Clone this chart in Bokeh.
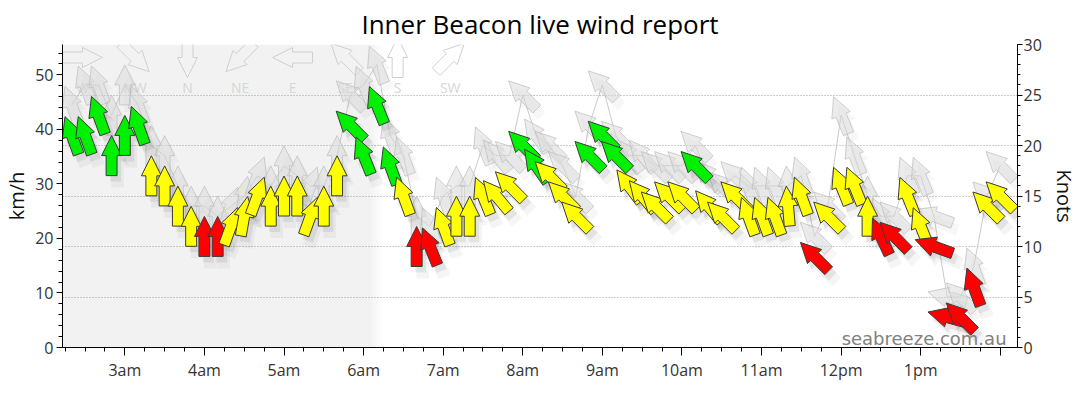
import numpy as np
from bokeh.plotting import figure
from bokeh.models import Range1d, LinearAxis, SingleIntervalTicker, FixedTicker, Label
from bokeh.embed import file_html
from bokeh.resources import INLINE
from bokeh.core.properties import value

# ---------------- data ----------------
times = ["02:20", "02:30", "02:40", "02:50", "03:00", "03:10", "03:20", "03:30", "03:40", "03:50",
         "04:00", "04:10", "04:20", "04:30", "04:40", "04:50", "05:00", "05:10", "05:20", "05:30",
         "05:40", "05:50", "06:00", "06:10", "06:20", "06:30", "06:40", "06:50", "07:00", "07:10",
         "07:20", "07:30", "07:40", "07:50", "08:00", "08:10", "08:20", "08:30", "08:40", "08:50",
         "09:00", "09:10", "09:20", "09:30", "09:40", "09:50", "10:00", "10:10", "10:20", "10:30",
         "10:40", "10:50", "11:00", "11:10", "11:20", "11:30", "11:40", "11:50", "12:00", "12:10",
         "12:20", "12:30", "12:40", "12:50", "13:00", "13:10", "13:20", "13:30", "13:40", "13:50",
         "14:00"]
avg_kn = [21, 21, 23, 19, 21, 22, 17, 16, 14, 12,
          11, 11, 12, 13, 15, 14, 15, 15, 13, 14,
          17, 22, 19, 24, 18, 15, 10, 10, 12, 13,
          13, 15, 15, 16, 20, 18, 17, 15, 13, 19,
          21, 19, 16, 15, 14, 15, 15, 18, 14, 13,
          15, 13, 13, 13, 14, 15, 9, 13, 16, 16,
          13, 11, 11, 15, 12, 10, 3, 3, 6, 14, 15]
gust_kn = [24, 26, 26, 23, 26, 24, 20, 19, 16, 14,
           14, 13, 14, 15, 17, 16, 18, 17, 16, 16,
           19, 25, 26, 28, 21, 19, 13, 12, 15, 16,
           16, 20, 19, 19, 25, 21, 20, 18, 15, 22,
           26, 21, 19, 19, 18, 18, 18, 20, 17, 16,
           17, 16, 16, 16, 16, 17, 11, 14, 23, 19,
           15, 13, 13, 17, 17, 13, 5, 5, 8, 15, 18]
dir_from = [160, 160, 160, 180, 180, 160, 180, 180, 180, 180,
            180, 180, 200, 190, 200, 180, 180, 180, 200, 180,
            180, 135, 158, 158, 160, 160, 180, 158, 160, 180,
            180, 158, 140, 135, 135, 145, 135, 135, 135, 135,
            135, 135, 143, 140, 135, 135, 135, 135, 140, 135,
            135, 160, 160, 160, 175, 160, 135, 135, 158, 158,
            180, 155, 135, 158, 158, 110, 105, 135, 160, 135, 135]

compass_names = ["W", "NW", "N", "NE", "E", "SE", "S", "SW"]
compass_from = [270, 315, 0, 45, 90, 135, 180, 225]

hour_ticks = [3, 4, 5, 6, 7, 8, 9, 10, 11, 12, 13, 14]
hour_labels = ["3am", "4am", "5am", "6am", "7am", "8am", "9am", "10am", "11am", "12pm", "1pm", ""]

# ---------------- layout ----------------
W, H = 1080, 414
BL, BR, BT, BB = 62, 60, 44, 67
FW, FH = W - BL - BR, H - BT - BB
X0, X1 = 2.2167, 14.2167
Y1 = 30.0
PXH = FW / (X1 - X0)   # px per hour
PXK = FH / Y1          # px per knot
FONT = "Open Sans"

def hours(t):
    h, m = t.split(":")
    return int(h) + int(m) / 60.0

xs = [hours(t) for t in times]

SHAPE = [(0, 20), (10, 0), (5.5, 0), (5.5, -20), (-5.5, -20), (-5.5, 0), (-10, 0)]

def arrow(xc, yc, point_deg, scale=1.0, ox=0.0, oy=0.0):
    t = np.radians(point_deg)
    c, s = np.cos(t), np.sin(t)
    px, py = [], []
    for (a, b) in SHAPE:
        a *= scale
        b *= scale
        rx = a * c + b * s + ox
        ry = -a * s + b * c + oy
        px.append(xc + rx / PXH)
        py.append(yc + ry / PXK)
    return px, py

def arrows(xv, yv, dv, **kw):
    X, Y = [], []
    for xc, yc, d in zip(xv, yv, dv):
        a, b = arrow(xc, yc, (d + 180) % 360, **kw)
        X.append(a)
        Y.append(b)
    return X, Y

def colour(v):
    if v < 12:
        return "#ff0000"
    if v < 18:
        return "#ffff00"
    return "#00f000"

p = figure(width=W, height=H,
           x_range=Range1d(X0, X1), y_range=Range1d(0, Y1),
           y_axis_location="right",
           output_backend="svg", toolbar_location=None,
           min_border_left=BL, min_border_right=BR, min_border_top=BT, min_border_bottom=BB)
p.outline_line_color = None
p.background_fill_color = "white"
p.border_fill_color = "white"

# title
p.title.text = "Inner Beacon live wind report"
p.title.align = "center"
p.title.text_font = FONT
p.title.text_font_size = "26px"
p.title.text_font_style = "normal"
p.title.text_color = "#000000"
p.title.standoff = 5

# night shading
p.quad(left=X0, right=6.08, bottom=0, top=Y1, fill_color="#f2f2f2", line_color=None, level="image")
nfade = 12
step = (6.24 - 6.08) / nfade
for i in range(nfade):
    p.quad(left=6.08 + i * step, right=6.08 + (i + 1) * step + 0.001, bottom=0, top=Y1,
           fill_color="#f2f2f2", fill_alpha=1 - (i + 0.5) / nfade, line_color=None, level="image")

# grid
p.xgrid.visible = False
p.ygrid.ticker = FixedTicker(ticks=[5, 10, 15, 20, 25])
p.ygrid.grid_line_color = "#9a9a9a"
p.ygrid.grid_line_dash = "1 2"
p.ygrid.grid_line_width = 1

# axes
right = p.yaxis[0]
right.ticker = SingleIntervalTicker(interval=5, num_minor_ticks=5)
right.axis_label = "Knots"
p.extra_y_ranges = {"kmh": Range1d(0, Y1 * 1.852)}
left = LinearAxis(y_range_name="kmh", axis_label="km/h",
                  ticker=SingleIntervalTicker(interval=10, num_minor_ticks=5))
p.add_layout(left, "left")

minor = [m for m in np.arange(2.25, 14.01, 0.25) if abs(m - round(m)) > 1e-6]
xa = p.xaxis[0]
xa.ticker = FixedTicker(ticks=hour_ticks, minor_ticks=minor)
xa.major_label_overrides = {h: l for h, l in zip(hour_ticks, hour_labels)}

for ax in (xa, left, right):
    ax.axis_line_color = "#000000"
    ax.major_tick_line_color = "#000000"
    ax.minor_tick_line_color = "#000000"
    ax.major_tick_in = 0
    ax.minor_tick_in = 0
    ax.major_label_text_font = FONT
    ax.major_label_text_font_size = "16px"
    ax.major_label_text_color = "#333333"
    ax.axis_label_text_font = FONT
    ax.axis_label_text_font_size = "20px"
    ax.axis_label_text_font_style = "normal"
    ax.axis_label_text_color = "#111111"
xa.major_tick_out = 8
xa.minor_tick_out = 4
xa.major_label_standoff = 3
left.major_tick_out = 6
left.minor_tick_out = 4
left.major_label_standoff = 3
left.axis_label_standoff = 2
right.major_tick_out = 5
right.minor_tick_out = 3
right.major_label_standoff = 1
right.axis_label_standoff = 6

# compass legend (decoration at top left)
lx = [X0 + (20 + 52.7 * i) / PXH for i in range(len(compass_names))]
ly_a = [Y1 - 13 / PXK] * len(compass_names)
ly_t = [Y1 - 43 / PXK] * len(compass_names)
LX, LY = arrows(lx, ly_a, compass_from)
p.patches(LX, LY, fill_color=None, line_color="#cfcfcf", line_width=1)
p.text(x=lx, y=ly_t, text=compass_names, text_font=value(FONT), text_font_size="14px",
       text_color="#d6d6d6", text_align="center", text_baseline="middle")

# gusts: line, shadow, arrows
p.line(xs, gust_kn, line_color="#bdbdbd", line_width=1, line_alpha=0.8)
GX, GY = arrows(xs, gust_kn, dir_from, ox=5, oy=-7)
p.patches(GX, GY, fill_color="#000000", fill_alpha=0.03, line_color=None)
GX, GY = arrows(xs, gust_kn, dir_from)
p.patches(GX, GY, fill_color="#dcdcdc", fill_alpha=0.55, line_color="#bcbcbc", line_alpha=0.7, line_width=1)

# average wind: shadow + coloured arrows
SX, SY = arrows(xs, avg_kn, dir_from, scale=1.15, ox=6, oy=-9)
p.patches(SX, SY, fill_color="#000000", fill_alpha=0.04, line_color=None)
SX, SY = arrows(xs, avg_kn, dir_from, ox=4, oy=-6)
p.patches(SX, SY, fill_color="#000000", fill_alpha=0.07, line_color=None)
AX, AY = arrows(xs, avg_kn, dir_from)
p.patches(AX, AY, fill_color=[colour(v) for v in avg_kn], line_color="#3a3a3a", line_width=1)

# watermark
p.add_layout(Label(x=X1 - 11 / PXH, y=0.9, text="seabreeze.com.au", text_align="right",
                   text_baseline="alphabetic", text_font="DejaVu Sans", text_font_size="18px",
                   text_color="#808080"))

open("out.html", "w").write(file_html(p, INLINE))
